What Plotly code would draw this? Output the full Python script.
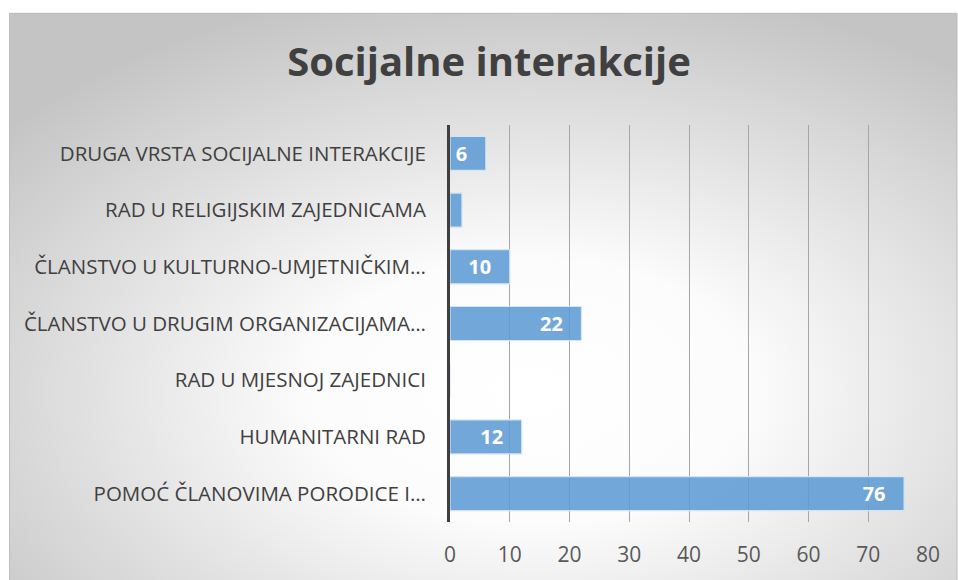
import plotly.graph_objects as go

# data, top to bottom as in the chart
categories = [
    'DRUGA VRSTA SOCIJALNE INTERAKCIJE',
    'RAD U RELIGIJSKIM ZAJEDNICAMA',
    'ČLANSTVO U KULTURNO-UMJETNIČKIM…',
    'ČLANSTVO U DRUGIM ORGANIZACIJAMA…',
    'RAD U MJESNOJ ZAJEDNICI',
    'HUMANITARNI RAD',
    'POMOĆ ČLANOVIMA PORODICE I…',
]
values = [6, 2, 10, 22, 0, 12, 76]
value_labels = ['6', '', '10', '22', '', '12', '76']
x_ticks = [0, 10, 20, 30, 40, 50, 60, 70, 80]

W, H = 958, 580
L, R, T, B = 450, 30, 125, 55
pw, ph = W - L - R, H - T - B

# page pixel -> paper coords
def px_x(p):
    return (p - L) / pw

def px_y(p):
    return 1 - (p - T) / ph

# radial gradient background, like the office chart style
svg = (
    "<svg xmlns='http://www.w3.org/2000/svg' width='948' height='568' preserveAspectRatio='none'>"
    "<defs><radialGradient id='g' cx='0.55' cy='0.66' r='0.72'>"
    "<stop offset='0' stop-color='#ffffff'/>"
    "<stop offset='0.32' stop-color='#fcfcfc'/>"
    "<stop offset='1' stop-color='#c4c4c4'/>"
    "</radialGradient></defs>"
    "<rect width='948' height='568' fill='url(#g)'/></svg>"
)
bg_src = 'data:image/svg+xml;utf8,' + svg.replace('#', '%23')

pad = '&nbsp;' * 3
fig = go.Figure(go.Bar(
    x=values,
    y=categories,
    orientation='h',
    marker=dict(color='rgba(94,155,213,0.88)', line=dict(color='rgba(210,228,245,1)', width=1.2)),
    text=[t + pad if t else '' for t in value_labels],
    textposition='inside',
    insidetextanchor='end',
    textangle=0,
    textfont=dict(family='Open Sans', size=20, color='white', weight='bold'),
    constraintext='none',
    width=0.6,
    hoverinfo='x+y',
))

fig.update_layout(
    width=W, height=H,
    margin=dict(l=L, r=R, t=T, b=B),
    paper_bgcolor='white',
    plot_bgcolor='rgba(0,0,0,0)',
    showlegend=False,
    title=dict(
        text='<b>Socijalne interakcije</b>',
        x=489 / W, xanchor='center',
        y=1 - 62 / H, yanchor='middle',
        font=dict(family='Open Sans', size=40, color='#404040'),
    ),
    images=[dict(
        source=bg_src, xref='paper', yref='paper',
        x=px_x(9), y=px_y(12), sizex=px_x(957) - px_x(9), sizey=px_y(12) - px_y(590),
        xanchor='left', yanchor='top', sizing='stretch', layer='below',
    )],
    shapes=[dict(
        type='rect', xref='paper', yref='paper',
        x0=px_x(9.5), x1=px_x(957), y0=px_y(12.5), y1=px_y(592),
        line=dict(color='#bdbdbd', width=1), layer='below',
    )],
    xaxis=dict(
        range=[0, 80], tickvals=x_ticks,
        showgrid=True, gridcolor='#a6a6a6', gridwidth=1.4,
        zeroline=False, showline=False, ticks='',
        ticklabelstandoff=18,
        tickfont=dict(family='Open Sans', size=21, color='#595959'),
    ),
    yaxis=dict(
        autorange='reversed', showgrid=False,
        showline=True, linecolor='#3f3f3f', linewidth=3,
        ticks='', ticklabelstandoff=17,
        tickfont=dict(family='Open Sans', size=20.5, color='#404040'),
    ),
    bargap=0.4,
)

# drop the default page margin so the figure sits at the window origin
fig.write_html(
    'out.html',
    config={'displayModeBar': False},
    post_script="document.body.style.margin='0';document.body.style.overflow='hidden';",
)
